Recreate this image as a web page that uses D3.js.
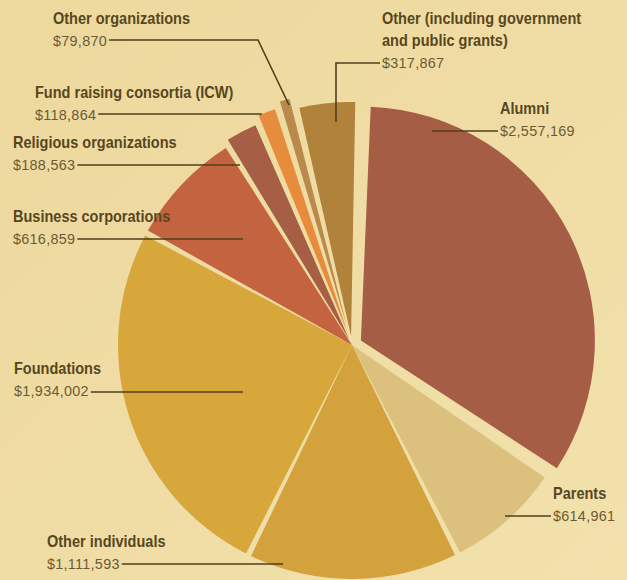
<!DOCTYPE html>
<html>
<head>
<meta charset="utf-8">
<script src="https://cdn.jsdelivr.net/npm/d3@7"></script>
<style>
  html, body { margin: 0; padding: 0; background: #efdba0; }
  svg { display: block; }
</style>
</head>
<body>
<script>
// data (clockwise from 12 o'clock)
const categories = ["Alumni", "Parents", "Other individuals", "Foundations",
    "Business corporations", "Religious organizations", "Fund raising consortia (ICW)",
    "Other organizations", "Other (including government\nand public grants)"];
const amounts = [2557169, 614961, 1111593, 1934002, 616859, 188563, 118864, 79870, 317867];
const colours = ["#a65d45", "#dcc07e", "#d3a23c", "#d7a73c", "#c4633f",
    "#a65e45", "#e78c3d", "#b98a4c", "#b0823a"];

// how far each slice is pulled out of the pie (px)
const explode = [10, 0, 0, 0, 0, 6, 14, 20, 9];

// label text anchor (x, baseline of the amount) and where the leader line goes
const labelLayout = [
    {x: 500, y: 136, line: [[432, 131]]},
    {x: 553, y: 521, line: [[505, 516]]},
    {x: 47,  y: 569, line: [[283, 564]]},
    {x: 14,  y: 396, line: [[243, 392]]},
    {x: 13,  y: 244, line: [[243, 239]]},
    {x: 13,  y: 170, line: [[240, 165]]},
    {x: 35,  y: 120, line: [[262, 114]]},
    {x: 53,  y: 46,  line: [[258, 40], [289, 105]]},
    {x: 382, y: 68,  line: [[336, 63], [336, 122]]}
];

const width = 627, height = 580;
const cx = 352, cy = 345, radius = 234;
const turn = 0.03; // the scan is turned slightly clockwise

const svg = d3.select("body").append("svg")
    .attr("width", width)
    .attr("height", height);

// paper background
const grad = svg.append("defs").append("linearGradient")
    .attr("id", "paper").attr("x1", 0).attr("y1", 0).attr("x2", 1).attr("y2", 1);
grad.append("stop").attr("offset", "0%").attr("stop-color", "#edd89d");
grad.append("stop").attr("offset", "100%").attr("stop-color", "#f2e1ac");
svg.append("rect").attr("width", width).attr("height", height).attr("fill", "url(#paper)");

const pie = d3.pie().sort(null).value(d => d)
    .startAngle(turn).endAngle(turn + 2 * Math.PI)(amounts);

const arc = d3.arc()
    .innerRadius(0)
    .outerRadius(radius)
    .padAngle(0.024)
    .padRadius(radius);

const g = svg.append("g").attr("transform", "translate(" + cx + "," + cy + ")");

g.selectAll("path.slice")
    .data(pie)
    .enter()
    .append("path")
    .attr("class", "slice")
    .attr("fill", (d, i) => colours[i])
    .attr("transform", (d, i) => {
        const a = (d.startAngle + d.endAngle) / 2;
        return "translate(" + (Math.sin(a) * explode[i]) + "," + (-Math.cos(a) * explode[i]) + ")";
    })
    .attr("d", arc);

// labels
const fmt = d3.format("$,");
const line = d3.line();
labelLayout.forEach((p, i) => {
    const names = categories[i].split("\n");
    names.forEach((n, k) => {
        svg.append("text")
            .attr("transform", "translate(" + p.x + "," + (p.y - 22 * (names.length - k)) + ") scale(0.88,1)")
            .style("font-family", "'Liberation Sans', Arial, sans-serif")
            .style("font-weight", "bold")
            .style("font-size", "16.5px")
            .style("fill", "#574720")
            .text(n);
    });
    const val = svg.append("text")
        .attr("transform", "translate(" + p.x + "," + p.y + ") scale(0.96,1)")
        .style("font-family", "'Liberation Sans', Arial, sans-serif")
        .style("font-size", "15px")
        .style("letter-spacing", "0.3px")
        .style("fill", "#6b5b34")
        .text(fmt(amounts[i]));

    // leader line starts just past the amount
    const w = val.node().getComputedTextLength() * 0.96;
    const right = p.line[0][0] > p.x;
    const start = right ? [p.x + w + 2, p.line[0][1]] : [p.x - 2, p.line[0][1]];
    svg.append("path")
        .attr("fill", "none")
        .attr("stroke", "#4f3f1c")
        .attr("stroke-width", 1.6)
        .attr("d", line([start].concat(p.line)));
});
</script>
</body>
</html>
